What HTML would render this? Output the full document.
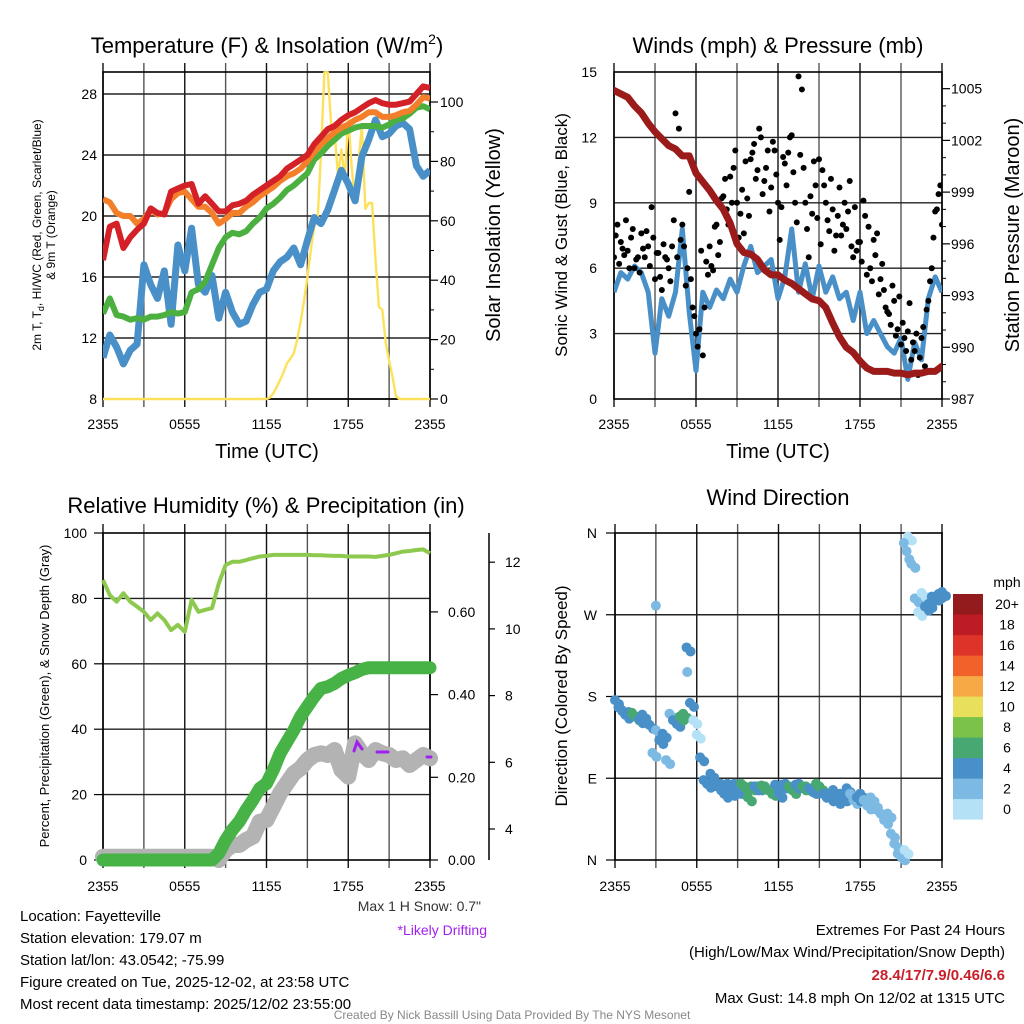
<!DOCTYPE html>
<html><head><meta charset="utf-8"><style>
html,body{margin:0;padding:0;background:#fff;}
svg{display:block;font-family:"Liberation Sans",Arial,sans-serif;}
</style></head><body>
<svg id="chart" width="1024" height="1024" viewBox="0 0 1024 1024" xmlns="http://www.w3.org/2000/svg"></svg>
<script>
// ---------- DATA ----------
const xTickLabels = ["2355","0555","1155","1755","2355"];
const tempTicks = [8,12,16,20,24,28];
const solarTicks = [0,20,40,60,80,100];
const windTicks = [0,3,6,9,12,15];
const presTicks = [987,990,993,996,999,1002,1005];
const rhTicks = [0,20,40,60,80,100];
const precipTicks = ["0.00","0.20","0.40","0.60"];
const snowTicks = [4,6,8,10,12];
const dirTicks = ["N","E","S","W","N"];
const speedBins = ["0","2","4","6","8","10","12","14","16","18","20+"];
const speedColors = ["#b5e1f7","#7cbae4","#4a90c8","#48a872","#7bc24a","#e8e05a","#f7a945","#f1622a","#de3328","#bd1c24","#931a1d"];

// half-hourly (49 values, 2355 -> 2355)
const tempRed = [17.1,19.3,19.5,17.9,18.6,19.1,19.5,20.5,20.2,20.1,21.6,21.8,22.0,22.1,20.8,21.3,20.8,20.3,20.3,20.7,20.8,21.0,21.4,21.7,22.0,22.3,22.6,23.1,23.4,23.7,24.0,24.7,25.2,25.7,25.9,26.3,26.6,26.8,27.1,27.4,27.6,27.4,27.3,27.3,27.4,27.5,28.0,28.5,28.4];
const tempOrange = [21.1,20.9,20.2,20.0,20.0,19.5,19.8,20.4,20.1,20.2,21.1,21.5,21.6,21.1,20.6,20.6,20.2,19.5,19.8,20.2,20.2,20.6,20.9,21.3,21.6,21.9,22.3,22.6,22.8,23.1,23.6,24.2,24.7,25.1,25.5,25.8,26.0,26.3,26.5,26.8,26.8,26.5,26.5,26.6,26.8,26.9,27.3,27.8,27.7];
const tempGreen = [13.6,14.6,13.5,13.4,13.2,13.3,13.2,13.4,13.4,13.5,13.7,13.6,13.7,15.0,15.2,15.7,16.8,17.9,18.6,18.9,18.8,19.0,19.5,19.9,20.5,20.8,21.2,21.7,22.0,22.4,22.8,23.7,24.1,24.6,25.0,25.4,25.6,25.8,25.9,25.9,25.9,25.8,26.0,26.3,26.4,26.7,27.1,27.2,27.0];
const tempBlue = [10.7,12.2,11.4,10.3,11.2,11.6,16.8,15.5,14.6,16.4,12.9,18.1,16.4,19.2,15.5,15.0,16.1,13.3,15.0,13.7,12.9,13.1,14.2,15.0,15.2,16.4,17.0,17.3,17.9,16.8,18.4,19.9,19.5,20.4,21.7,23.0,22.1,21.0,23.9,25.0,26.3,25.2,25.4,25.9,26.1,25.7,23.3,22.6,23.0];
// quarter-hourly solar (97 values)
const solar = [0,0,0,0,0,0,0,0,0,0,0,0,0,0,0,0,0,0,0,0,0,0,0,0,0,0,0,0,0,0,0,0,0,0,0,0,0,0,0,0,0,0,0,0,0,0,0,0,
 0,0.5,2,4,6.4,9,12,13.5,15.4,20,26,33,41,50,58,60,83,110,110,92,90,75,84,74,95,78,66,80,92,64,66,66,47,31,30,19,13,7.5,1,0,0,0,0,0,0,0,0,0,0];
// winds (half-hourly) & pressure
const windSpeed = [4.9,5.8,5.5,6.1,5.8,4.9,2.1,4.6,3.8,4.9,7.8,4.0,1.3,4.9,4.2,5.0,4.6,5.5,4.9,6.1,7.0,5.8,6.1,6.4,4.6,5.6,7.8,4.9,6.2,4.6,6.1,4.9,5.6,4.6,4.9,3.6,4.9,3.0,3.6,3.0,2.4,2.1,2.8,0.9,2.6,1.8,4.6,5.6,4.9];
const pressure = [1004.9,1004.7,1004.5,1004.0,1003.6,1003.0,1002.5,1002.1,1001.7,1001.5,1001.1,1001.1,1000.1,999.6,999.1,998.5,998.0,997.2,996.0,995.5,995.4,995.1,994.5,994.2,994.2,993.9,993.7,993.4,993.1,992.8,992.7,992.3,991.4,990.6,990.0,989.7,989.2,988.8,988.6,988.6,988.6,988.5,988.5,988.4,988.5,988.5,988.6,988.6,988.9];
const gustA = [6.5,8.0,7.2,6.6,6.8,7.4,6.0,6.5,7.6,6.5,7.0,8.8,5.5,6.7,5.0,6.5,6.0,7.0,13.1,12.4,8.0,5.2,9.5,4.2,3.0,3.2,2.0,6.3,7.0,5.9,8.0,7.2,9.3,8.7,10.2,10.6,9.0,8.5,7.6,9.2,11.0,11.7,10.5,12.0,10.0,11.4,9.7,11.4,9.0,8.8,10.8,11.3,12.1,9.0,14.8,14.2,9.0,6.5,8.5,9.8,11.0,10.5,9.0,7.7,8.7,7.5,9.7,8.0,7.8,10.0,6.5,6.8,7.2,9.1,5.7,6.0,7.3,7.6,5.5,5.0,4.0,3.4,4.5,3.2,2.5,2.8,3.1,1.8,2.2,1.1,2.8,1.5,4.5,6.0,8.6,9.4,8.0];
const gustB = [7.5,6.2,6.9,8.2,6.0,7.8,6.4,5.8,6.9,7.7,6.1,7.4,6.7,5.6,7.1,6.4,5.4,8.2,6.5,7.3,7.0,6.0,5.5,3.8,2.4,6.8,4.2,5.7,6.1,7.9,6.6,9.2,10.1,8.0,9.0,11.4,7.4,9.6,10.9,8.4,11.3,10.1,12.4,9.4,10.6,8.6,11.8,10.3,7.3,11.1,9.8,12.0,10.4,8.1,11.2,10.6,7.8,9.3,10.9,8.3,7.1,9.8,8.2,10.1,6.8,8.4,7.5,9.0,8.6,7.0,8.8,7.2,6.3,8.4,7.9,5.4,6.6,4.8,6.2,4.2,3.9,5.2,2.9,4.7,3.5,2.2,4.4,2.6,3.0,1.9,3.3,4.1,5.4,7.4,8.7,9.8];
// RH / precip / snow (half-hourly)
const rh = [85.6,81.0,79.0,81.6,79.0,77.5,75.9,73.4,75.4,73.4,70.3,71.9,69.8,79.5,75.9,76.5,77.0,84.6,90.2,91.2,91.2,91.7,92.3,92.8,93.0,93.3,93.3,93.3,93.3,93.3,93.3,93.2,93.2,93.1,93.0,93.0,92.8,92.8,92.8,92.8,92.7,93.0,93.3,93.8,94.3,94.5,94.8,95.0,93.8];
const precip = [0,0,0,0,0,0,0,0,0,0,0,0,0,0,0,0,0,0.016,0.048,0.073,0.093,0.121,0.145,0.173,0.185,0.218,0.258,0.286,0.314,0.347,0.371,0.395,0.415,0.419,0.427,0.439,0.447,0.453,0.461,0.465,0.465,0.465,0.465,0.465,0.465,0.465,0.465,0.465,0.465];
const snow = [3.17,3.17,3.17,3.17,3.17,3.17,3.17,3.17,3.17,3.17,3.17,3.17,3.17,3.17,3.17,3.17,3.17,3.07,3.37,3.52,3.52,3.67,3.77,4.22,4.27,4.67,5.07,5.37,5.67,5.82,6.07,6.22,6.27,6.22,6.37,5.77,5.57,6.57,6.27,6.07,6.37,6.27,6.22,6.07,6.12,5.92,6.07,6.22,6.12];
// wind direction (quarter-hourly, degrees)
const windDir = [176,168,165,160,163,162,158,155,160,153,149,118,143,132,139,110,161,154,151,158,161,234,173,154,138,113,88,84,95,88,81,84,73,84,75,84,77,84,81,69,81,81,81,82,81,77,75,83,73,83,84,81,77,83,84,81,81,79,77,84,81,73,73,69,77,66,73,69,79,73,66,69,73,66,60,69,62,55,51,44,51,29,18,7,4,11,356,326,288,273,294,279,282,290,290,293,295];
const extraDirHours = [3.0,21.2,21.4,21.6,5.3];
const extraDirs = [280,349,340,331,207];

// ---------- HELPERS ----------
const svg = document.getElementById('chart');
const NS = 'http://www.w3.org/2000/svg';
function mk(tag, attrs, parent){
  const e = document.createElementNS(NS, tag);
  for (const k in attrs) e.setAttribute(k, attrs[k]);
  (parent || svg).appendChild(e);
  return e;
}
function txt(x, y, s, size, anchor, parent, fill, weight){
  const t = mk('text', {x:x, y:y, 'font-size':size, 'text-anchor':anchor||'middle', fill:fill||'#000'}, parent);
  if (weight) t.setAttribute('font-weight', weight);
  t.textContent = s;
  return t;
}
function pathFrom(vals, xf, yf){
  let d = '';
  vals.forEach((v,i)=>{ d += (i? 'L':'M') + xf(i).toFixed(1) + ',' + yf(v).toFixed(1); });
  return d;
}
const P1 = {x0:103, x1:430, y0:72, y1:399};
const P2 = {x0:614, x1:942, y0:72, y1:399};
const P3 = {x0:103, x1:430, y0:533, y1:860};
const P4 = {x0:615, x1:942, y0:533, y1:860};
function xh(P, h){ return P.x0 + h/24*(P.x1-P.x0); }
const yTemp = v => 399 - (v-8)*61/4;
const ySol = v => 399 - v*2.97;
const yWind = v => 399 - v*21.8;
const yPres = v => 399 - (v-987)*17.24;
const yRH = v => 860 - v*3.27;
const yPrec = v => 860 - v*413.5;
const ySnow = v => 829 - (v-4)*33.35;
const yDir = v => 860 - v*327/360;

const defs = mk('defs', {});
[P1,P2,P3,P4].forEach((P,i)=>{
  const c = mk('clipPath', {id:'clip'+i}, defs);
  mk('rect', {x:P.x0, y:P.y0-2, width:P.x1-P.x0, height:P.y1-P.y0+4}, c);
});

function grid(P, hLines, name){
  const g = mk('g', {});
  
  
  for (let k=0;k<=8;k++){
    const x = P.x0 + k*(P.x1-P.x0)/8;
    const l = mk('line', {x1:x, x2:x, y1:P.y0-9, y2:P.y1+8, stroke:(k%2? '#555':'#111'), 'stroke-width':1.4}, g);
    
    
  }
  hLines.forEach(y=>{
    const l = mk('line', {x1:P.x0, x2:P.x1, y1:y, y2:y, stroke:'#222', 'stroke-width':1.4}, g);
    
    
  });
  const fr = mk('rect', {x:P.x0, y:P.y0, width:P.x1-P.x0, height:P.y1-P.y0, fill:'none', stroke:'#000', 'stroke-width':1.6}, g);
  
  
  return g;
}
function xTicks(P, y, name){
  xTickLabels.forEach((s,i)=>{
    const t = txt(P.x0 + i*(P.x1-P.x0)/4, y, s, 14, 'middle');
    
    
  });
}

// ---------- PANEL 1 ----------
grid(P1, tempTicks.map(yTemp), 'temperature-panel');
xTicks(P1, 429, 'temperature');
tempTicks.forEach(v=>{
  const t = txt(97, yTemp(v)+5, String(v), 14, 'end');
  
  
});
solarTicks.forEach(v=>{
  const tk = mk('line', {x1:P1.x1, x2:P1.x1+8, y1:ySol(v), y2:ySol(v), stroke:'#000', 'stroke-width':1.2});
  
  
  const t = txt(440, ySol(v)+5, String(v), 14, 'start');
  
  
});
for (let v=10; v<110; v+=20){
  const tk = mk('line', {x1:P1.x1, x2:P1.x1+4, y1:ySol(v), y2:ySol(v), stroke:'#000', 'stroke-width':1});
  
  
}
const g1 = mk('g', {'clip-path':'url(#clip0)'});


const s1 = mk('path', {d:pathFrom(solar, i=>xh(P1,i*0.25), ySol), fill:'none', stroke:'#fde15a', 'stroke-width':2.4, 'stroke-linejoin':'round'}, g1);


const sb = mk('path', {d:pathFrom(tempBlue, i=>xh(P1,i*0.5), yTemp), fill:'none', stroke:'#4a90c8', 'stroke-width':7, 'stroke-linejoin':'round'}, g1);


const sg = mk('path', {d:pathFrom(tempGreen, i=>xh(P1,i*0.5), yTemp), fill:'none', stroke:'#4bb040', 'stroke-width':6, 'stroke-linejoin':'round'}, g1);


const so = mk('path', {d:pathFrom(tempOrange, i=>xh(P1,i*0.5), yTemp), fill:'none', stroke:'#f47f2a', 'stroke-width':6, 'stroke-linejoin':'round'}, g1);


const sr = mk('path', {d:pathFrom(tempRed, i=>xh(P1,i*0.5), yTemp), fill:'none', stroke:'#d42027', 'stroke-width':6, 'stroke-linejoin':'round'}, g1);



const t1 = mk('text', {x:267, y:53, 'font-size':22, 'text-anchor':'middle'});


t1.innerHTML = 'Temperature (F) &amp; Insolation (W/m<tspan dy="-9" font-size="14">2</tspan><tspan dy="9">)</tspan>';
const yt1 = mk('text', {x:0, y:0, 'font-size':12, 'text-anchor':'middle', transform:'translate(41,235) rotate(-90)'});


yt1.innerHTML = '2m T, T<tspan dy="3" font-size="9">d</tspan><tspan dy="-3">, HI/WC (Red, Green, Scarlet/Blue)</tspan>';
const yt1b = txt(0,0,'& 9m T (Orange)',12,'middle');
yt1b.setAttribute('transform','translate(55,235) rotate(-90)');


const yt1r = txt(0,0,'Solar Insolation (Yellow)',20,'middle');
yt1r.setAttribute('transform','translate(500,235) rotate(-90)');


const xt1 = txt(267, 458, 'Time (UTC)', 20, 'middle');



// ---------- PANEL 2 ----------
grid(P2, windTicks.slice(1,5).map(yWind), 'winds-panel');
xTicks(P2, 429, 'winds');
windTicks.forEach(v=>{
  const t = txt(597, yWind(v)+5, String(v), 14, 'end');
  
  
});
presTicks.forEach(v=>{
  const tk = mk('line', {x1:P2.x1, x2:P2.x1+8, y1:yPres(v), y2:yPres(v), stroke:'#000', 'stroke-width':1.2});
  
  
  const t = txt(951, yPres(v)+5, String(v), 14, 'start');
  
  
});
for (let v=988; v<1006; v++){
  if ((v-987)%3===0) continue;
  const tk = mk('line', {x1:P2.x1, x2:P2.x1+4, y1:yPres(v), y2:yPres(v), stroke:'#000', 'stroke-width':1});
  
  
}
const g2 = mk('g', {'clip-path':'url(#clip1)'});


const wl = mk('path', {d:pathFrom(windSpeed, i=>xh(P2,i*0.5), yWind), fill:'none', stroke:'#4a90c8', 'stroke-width':5, 'stroke-linejoin':'round'}, g2);


gustA.forEach((v,i)=>{
  const c = mk('circle', {cx:xh(P2,i*0.25), cy:yWind(v), r:3, fill:'#000'}, g2);
  
  
});
gustB.forEach((v,i)=>{
  const c = mk('circle', {cx:xh(P2,(i+0.5)*0.25), cy:yWind(v), r:3, fill:'#000'}, g2);
  
  
});
const pl = mk('path', {d:pathFrom(pressure, i=>xh(P2,i*0.5), yPres), fill:'none', stroke:'#9b1b1b', 'stroke-width':7, 'stroke-linejoin':'round', 'stroke-linecap':'round'}, g2);


const t2 = txt(778, 53, 'Winds (mph) & Pressure (mb)', 22, 'middle');


const yt2 = txt(0,0,'Sonic Wind & Gust (Blue, Black)',17,'middle');
yt2.setAttribute('transform','translate(567,235) rotate(-90)');


const yt2r = txt(0,0,'Station Pressure (Maroon)',20,'middle');
yt2r.setAttribute('transform','translate(1019,235) rotate(-90)');


const xt2 = txt(778, 458, 'Time (UTC)', 20, 'middle');



// ---------- PANEL 3 ----------
grid(P3, [20,40,60,80].map(yRH), 'humidity-panel');
xTicks(P3, 891, 'humidity');
rhTicks.forEach(v=>{
  const tk = mk('line', {x1:P3.x0-9, x2:P3.x0, y1:yRH(v), y2:yRH(v), stroke:'#000', 'stroke-width':1.2});
  
  
  const t = txt(87, yRH(v)+5, String(v), 14, 'end');
  
  
});
precipTicks.forEach(s=>{
  const v = parseFloat(s);
  const tk = mk('line', {x1:P3.x1, x2:P3.x1+8, y1:yPrec(v), y2:yPrec(v), stroke:'#000', 'stroke-width':1.2});
  
  
  const t = txt(448, yPrec(v)+5, s, 14, 'start');
  
  
});
const sax = mk('line', {x1:489, x2:489, y1:533, y2:860, stroke:'#000', 'stroke-width':1.5});


snowTicks.forEach(v=>{
  const tk = mk('line', {x1:489, x2:495, y1:ySnow(v), y2:ySnow(v), stroke:'#000', 'stroke-width':1.2});
  
  
  const t = txt(505, ySnow(v)+5, String(v), 14, 'start');
  
  
});
const g3 = mk('g', {});


const rl = mk('path', {d:pathFrom(rh, i=>xh(P3,i*0.5), yRH), fill:'none', stroke:'#8dc94f', 'stroke-width':4, 'stroke-linejoin':'round'}, g3);


const snl = mk('path', {d:pathFrom(snow, i=>xh(P3,i*0.5), ySnow), fill:'none', stroke:'#b3b3b3', 'stroke-width':16, 'stroke-linejoin':'round', 'stroke-linecap':'round'}, g3);


const prl = mk('path', {d:pathFrom(precip, i=>xh(P3,i*0.5), yPrec), fill:'none', stroke:'#47b347', 'stroke-width':13, 'stroke-linejoin':'round', 'stroke-linecap':'round'}, g3);


const drift = mk('path', {d:'M354,751 L357,742 L362,749 M377,752 L388,752 M427,757 L431,757', fill:'none', stroke:'#a020f0', 'stroke-width':3, 'stroke-linecap':'round'}, g3);


const t3 = txt(266, 513, 'Relative Humidity (%) & Precipitation (in)', 22, 'middle');


const yt3 = txt(0,0,'Percent, Precipitation (Green), & Snow Depth (Gray)',13,'middle');
yt3.setAttribute('transform','translate(49,696) rotate(-90)');


const ms = txt(481, 911, 'Max 1 H Snow: 0.7"', 14, 'end', null, '#333');


const ld = txt(487, 935, '*Likely Drifting', 14, 'end', null, '#a020f0');



// ---------- PANEL 4 ----------
grid(P4, [90,180,270].map(yDir), 'direction-panel');
xTicks(P4, 891, 'direction');
dirTicks.forEach((s,i)=>{
  const y = yDir(i*90);
  const tk = mk('line', {x1:P4.x0-9, x2:P4.x0, y1:y, y2:y, stroke:'#000', 'stroke-width':1.2});
  
  
  const t = txt(597, y+5, s, 14, 'end');
  
  
});
function speedColor(v){ return speedColors[Math.max(0, Math.min(10, Math.floor(v/2)))]; }
const g4 = mk('g', {});


windDir.forEach((d,i)=>{
  const spd = windSpeed[Math.min(48, Math.round(i/2))];
  const c = mk('circle', {cx:xh(P4,i*0.25), cy:yDir(d), r:5, fill:speedColor(spd)}, g4);
  
  
  const c2 = mk('circle', {cx:xh(P4,i*0.25)+4, cy:yDir(d)+4, r:5, fill:speedColor(spd)}, g4);
  
  
});
extraDirs.forEach((d,i)=>{
  const c = mk('circle', {cx:xh(P4,extraDirHours[i]), cy:yDir(d), r:5, fill:speedColors[1]}, g4);
  
  
});
const t4 = txt(778, 505, 'Wind Direction', 22, 'middle');


const yt4 = txt(0,0,'Direction (Colored By Speed)',17,'middle');
yt4.setAttribute('transform','translate(567,696) rotate(-90)');


const cb = mk('g', {});


const cbt = txt(1007, 587, 'mph', 14, 'middle', cb);


speedBins.forEach((s,k)=>{
  const j = 10-k;
  const r = mk('rect', {x:953, y:594+j*20.5, width:30, height:20.6, fill:speedColors[k]}, cb);
  
  
  const t = txt(1007, 594+j*20.5+15, s, 14, 'middle', cb);
  
  
});

// ---------- FOOTER TEXT ----------
const info = ["Location: Fayetteville","Station elevation: 179.07 m","Station lat/lon: 43.0542; -75.99","Figure created on Tue, 2025-12-02, at 23:58 UTC","Most recent data timestamp: 2025/12/02 23:55:00"];
info.forEach((s,i)=>{
  const t = txt(20, 921+i*22, s, 15, 'start');
  
  
});
const e1 = txt(1005, 935, 'Extremes For Past 24 Hours', 15, 'end');


const e2 = txt(1005, 957, '(High/Low/Max Wind/Precipitation/Snow Depth)', 15, 'end');


const e3 = txt(1005, 980, '28.4/17/7.9/0.46/6.6', 15, 'end', null, '#c8202a', 'bold');


const e4 = txt(1005, 1003, 'Max Gust: 14.8 mph On 12/02 at 1315 UTC', 15, 'end');


const cr = txt(512, 1019, 'Created By Nick Bassill Using Data Provided By The NYS Mesonet', 12, 'middle', null, '#888');


</script>
</body></html>
